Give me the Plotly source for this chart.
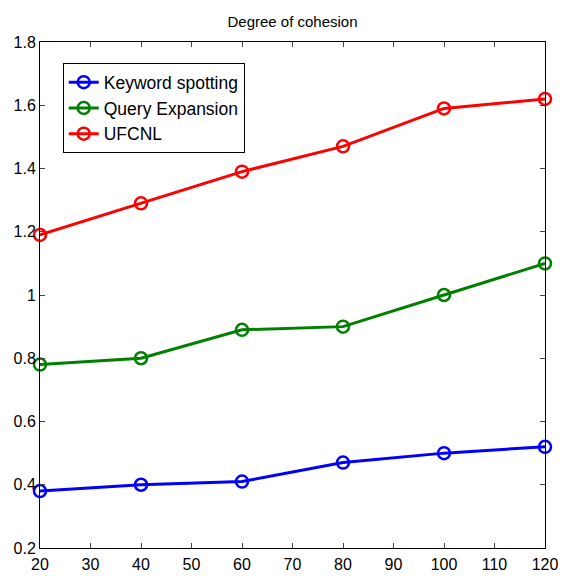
import plotly.graph_objects as go

x_vals = [20, 40, 60, 80, 100, 120]
keyword_spotting = [0.38, 0.40, 0.41, 0.47, 0.50, 0.52]
query_expansion = [0.78, 0.80, 0.89, 0.90, 1.00, 1.10]
ufcnl = [1.19, 1.29, 1.39, 1.47, 1.59, 1.62]
x_ticks = [20, 30, 40, 50, 60, 70, 80, 90, 100, 110, 120]
y_ticks = [0.2, 0.4, 0.6, 0.8, 1.0, 1.2, 1.4, 1.6, 1.8]
y_tick_text = ["0.2", "0.4", "0.6", "0.8", "1", "1.2", "1.4", "1.6", "1.8"]

FONT = "Liberation Sans Narrow, Arial Narrow, Liberation Sans, Arial, sans-serif"

fig = go.Figure()
for name, ys, color in [("Keyword spotting", keyword_spotting, "#0000ff"),
                        ("Query Expansion", query_expansion, "#008000"),
                        ("UFCNL", ufcnl, "#ff0000")]:
    fig.add_trace(go.Scatter(
        x=x_vals, y=ys, name=name, mode="lines+markers",
        line=dict(color=color, width=3),
        marker=dict(symbol="circle-open", size=12, color=color, line=dict(width=2.5)),
        cliponaxis=False,
    ))

# page body adds an 8px margin; size the figure to fit the 566x579 window
fig.update_layout(
    width=558, height=571,
    margin=dict(l=32, r=21, t=34, b=31, autoexpand=False),
    paper_bgcolor="white", plot_bgcolor="white",
    font=dict(family=FONT, size=14, color="black"),
    title=dict(text="Degree of cohesion", xref="paper", x=0.5, xanchor="center",
               yref="container", y=1 - 14 / 571, yanchor="middle",
               font=dict(family=FONT, size=15, color="black")),
    showlegend=True,
    legend=dict(x=0.045, y=0.958, xanchor="left", yanchor="top",
                bgcolor="white", bordercolor="black", borderwidth=1,
                font=dict(family=FONT, size=17.5, color="black"),
                tracegroupgap=0),
    xaxis=dict(range=[20, 120], tickvals=x_ticks, ticks="inside", ticklen=5,
               showline=True, linecolor="black", linewidth=1, mirror="ticks",
               showgrid=False, zeroline=False, tickfont=dict(size=16), automargin=False,
               ticklabelstandoff=2),
    yaxis=dict(range=[0.2, 1.8], tickvals=y_ticks, ticktext=y_tick_text, ticks="inside", ticklen=5,
               showline=True, linecolor="black", linewidth=1, mirror="ticks",
               showgrid=False, zeroline=False, tickfont=dict(size=16), automargin=False),
)

fig.write_html("out.html")
